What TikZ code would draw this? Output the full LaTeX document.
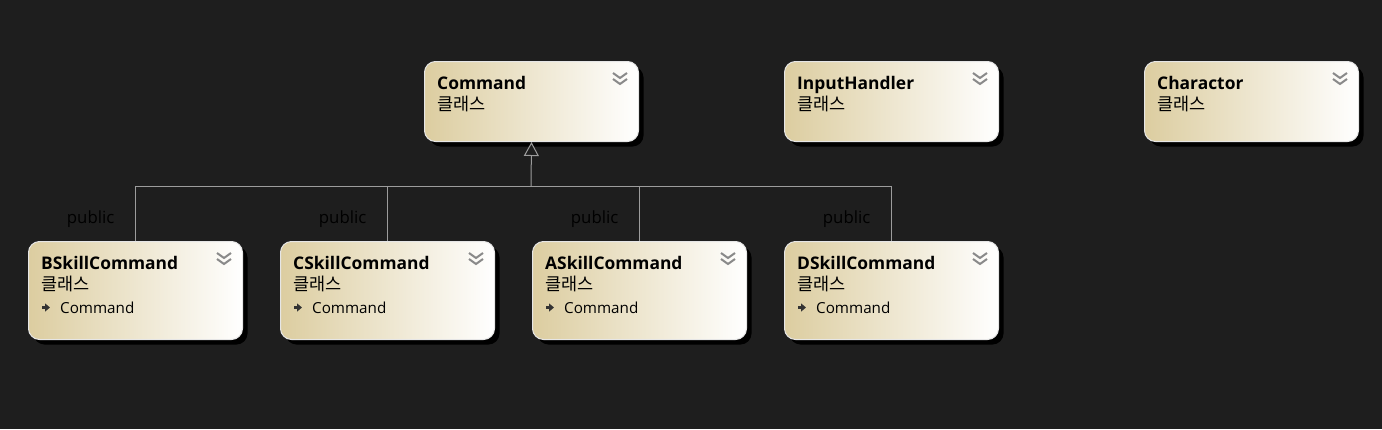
\documentclass[tikz,border=0pt]{standalone}
\usepackage{fontspec}
\setmainfont{Open Sans}
\newfontfamily\kr{Noto Sans CJK KR}
\usetikzlibrary{arrows.meta,shadows,calc}
\definecolor{bg}{HTML}{1E1E1E}
\definecolor{tan}{HTML}{DCCDA0}
\definecolor{boxline}{HTML}{E6E6E6}
\definecolor{conn}{HTML}{9C9C9C}
\definecolor{chevc}{HTML}{8A8A8A}
\definecolor{iconc}{HTML}{333333}
\tikzset{
  classbox/.style={draw=boxline, line width=1pt, rounded corners=11pt,
    left color=tan, right color=white, minimum width=214pt, inner sep=0pt,
    anchor=north west,
    drop shadow={shadow xshift=5pt, shadow yshift=-5pt, fill=black, opacity=1}},
  title/.style={anchor=base west, inner sep=0pt, text=black,
    font=\bfseries\fontsize{17.4}{19}\selectfont},
  kind/.style={anchor=base west, inner sep=0pt, text=black,
    font=\kr\fontsize{17.5}{19}\selectfont},
  parentlbl/.style={anchor=base west, inner sep=0pt, text=black,
    font=\fontsize{15.2}{17}\selectfont},
  publbl/.style={anchor=base east, inner sep=0pt, text=black,
    font=\fontsize{16.8}{18}\selectfont},
  chev/.style={draw=chevc, line width=2pt},
  pico/.style={draw=iconc, line width=2.4pt, -{Triangle[length=5pt,width=8pt]}},
  conline/.style={draw=conn, line width=1pt},
}
\begin{document}
\begin{tikzpicture}[x=1pt,y=-1pt]
\fill[bg] (0,0) rectangle (1382,429);
\useasboundingbox (0,0) rectangle (1382,429);

% top row
\node[classbox, minimum height=80pt] (cmd) at (424,61) {};
\node[classbox, minimum height=80pt] (inp) at (784,61) {};
\node[classbox, minimum height=80pt] (chr) at (1144,61) {};
% bottom row
\node[classbox, minimum height=98pt] (bsk) at (28,241) {};
\node[classbox, minimum height=98pt] (csk) at (280,241) {};
\node[classbox, minimum height=98pt] (ask) at (532,241) {};
\node[classbox, minimum height=98pt] (dsk) at (784,241) {};

% texts top
\node[title] (cmdT) at ($(cmd.north west)+(13,28)$) {Command};
\node[kind]  (cmdK) at ($(cmd.north west)+(13,49)$) {클래스};
\node[title] (inpT) at ($(inp.north west)+(13,28)$) {InputHandler};
\node[kind]  (inpK) at ($(inp.north west)+(13,49)$) {클래스};
\node[title] (chrT) at ($(chr.north west)+(13,28)$) {Charactor};
\node[kind]  (chrK) at ($(chr.north west)+(13,49)$) {클래스};

% texts bottom
\foreach \b/\t in {bsk/BSkillCommand, csk/CSkillCommand, ask/ASkillCommand, dsk/DSkillCommand}{
  \node[title] (\b T) at ($(\b.north west)+(13,28)$) {\t};
  \node[kind]  (\b K) at ($(\b.north west)+(13,49)$) {클래스};
  \draw[pico] ($(\b.north west)+(14,66.5)$) -- ++(8,0);
  \node[parentlbl] (\b P) at ($(\b.north west)+(32,72)$) {Command};
}

% chevrons
\foreach \b in {cmd,inp,chr,bsk,csk,ask,dsk}{
  \draw[chev] ($(\b.north west)+(189,12)$) -- ++(7,5) -- ++(7,-5);
  \draw[chev] ($(\b.north west)+(189,18)$) -- ++(7,5) -- ++(7,-5);
}

% connectors
\coordinate (j) at (531,186);
\draw[conline] (bsk.north) |- (j);
\draw[conline] (csk.north) |- (j);
\draw[conline] (ask.north) |- (j);
\draw[conline] (dsk.north) |- (j);
\draw[conline, -{Triangle[open, length=14pt, width=15pt, fill=bg]}] (j) -- (cmd.south);

% public labels
\node[publbl] (pb) at ($(bsk.north)+(-21,-18)$) {public};
\node[publbl] (pc) at ($(csk.north)+(-21,-18)$) {public};
\node[publbl] (pa) at ($(ask.north)+(-21,-18)$) {public};
\node[publbl] (pd) at ($(dsk.north)+(-21,-18)$) {public};
\end{tikzpicture}
\end{document}
